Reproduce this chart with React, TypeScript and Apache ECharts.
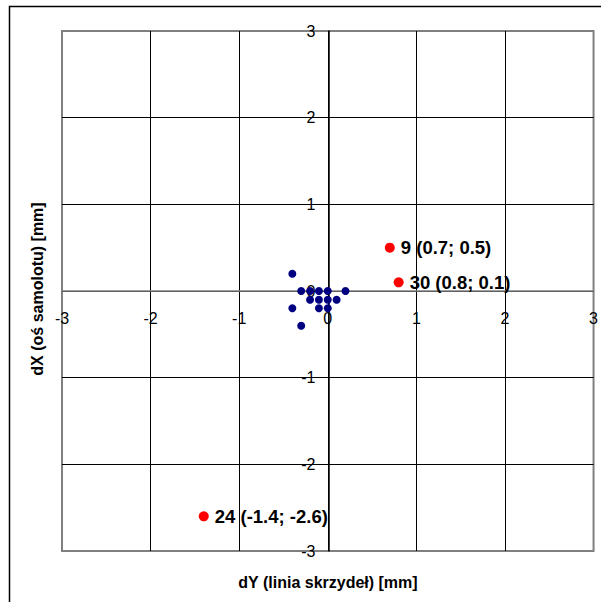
import React, { useEffect, useRef } from "react";
import * as echarts from "echarts";

const clusterDY = [-0.4, -0.3, -0.2, -0.1, 0, 0.2, -0.2, -0.1, 0, 0.1, -0.4, -0.1, 0, -0.3];
const clusterDX = [0.2, 0, 0, 0, 0, 0, -0.1, -0.1, -0.1, -0.1, -0.2, -0.2, -0.2, -0.4];

const outlierIds = [9, 30, 24];
const outlierDY = [0.7, 0.8, -1.4];
const outlierDX = [0.5, 0.1, -2.6];

const xTitle = "dY (linia skrzydeł) [mm]";
const yTitle = "dX (oś samolotu) [mm]";

export default function App() {
  const ref = useRef<HTMLDivElement>(null);
  useEffect(() => {
    if (!ref.current) return;
    const chart = echarts.init(ref.current, undefined, { renderer: "svg" });
    const font = "Arial, 'Liberation Sans', sans-serif";
    chart.setOption({
      animation: false,
      backgroundColor: "#fff",
      textStyle: { fontFamily: font },
      graphic: [
        {
          type: "rect",
          shape: { x: 9.5, y: 6.5, width: 620, height: 620 },
          style: { fill: "none", stroke: "#000", lineWidth: 1.5 },
          z: -1,
        },
        {
          type: "text",
          x: 328,
          y: 582,
          style: {
            text: xTitle,
            font: `bold 16px ${font}`,
            fill: "#000",
            textAlign: "center",
            textVerticalAlign: "middle",
          },
        },
        {
          type: "text",
          x: 37,
          y: 289,
          rotation: Math.PI / 2,
          style: {
            text: yTitle,
            font: `bold 16px ${font}`,
            fill: "#000",
            textAlign: "center",
            textVerticalAlign: "middle",
          },
        },
      ],
      grid: {
        left: 62,
        top: 31,
        width: 533,
        height: 520,
        show: true,
        borderColor: "#808080",
        borderWidth: 2,
        backgroundColor: "#fff",
      },
      xAxis: {
        type: "value",
        min: -3,
        max: 3,
        interval: 1,
        position: "bottom",
        offset: -260,
        axisLine: { onZero: false, lineStyle: { color: "#808080", width: 1.5 } },
        axisTick: { show: false },
        axisLabel: { color: "#000", fontSize: 16, margin: 19, fontFamily: font },
        splitLine: { show: true, showMinLine: false, showMaxLine: false, lineStyle: { color: "#000", width: 1 } },
      },
      yAxis: {
        type: "value",
        min: -3,
        max: 3,
        interval: 1,
        position: "left",
        offset: -266.5,
        axisLine: { onZero: false, lineStyle: { color: "#000", width: 1.5 } },
        axisTick: { show: false },
        axisLabel: { color: "#000", fontSize: 16, margin: 13, fontFamily: font },
        splitLine: { show: true, showMinLine: false, showMaxLine: false, lineStyle: { color: "#000", width: 1 } },
      },
      series: [
        {
          type: "scatter",
          symbol: "circle",
          symbolSize: 8,
          itemStyle: { color: "#000080", opacity: 1 },
          data: clusterDY.map((x, i) => [x, clusterDX[i]]),
          z: 3,
        },
        {
          type: "scatter",
          symbol: "circle",
          symbolSize: 10,
          itemStyle: { color: "#ff0000", opacity: 1 },
          data: outlierDY.map((x, i) => ({
            value: [x, outlierDX[i]],
            name: `${outlierIds[i]} (${x}; ${outlierDX[i]})`,
          })),
          label: {
            show: true,
            position: "right",
            distance: 6,
            formatter: (p: any) => p.name,
            color: "#000",
            fontWeight: "bold",
            fontSize: 18.5,
            fontFamily: font,
          },
          z: 3,
        },
      ],
    });
    return () => chart.dispose();
  }, []);
  return (
    <div
      ref={ref}
      style={{ position: "absolute", left: 0, top: 0, width: 601, height: 602 }}
    />
  );
}
